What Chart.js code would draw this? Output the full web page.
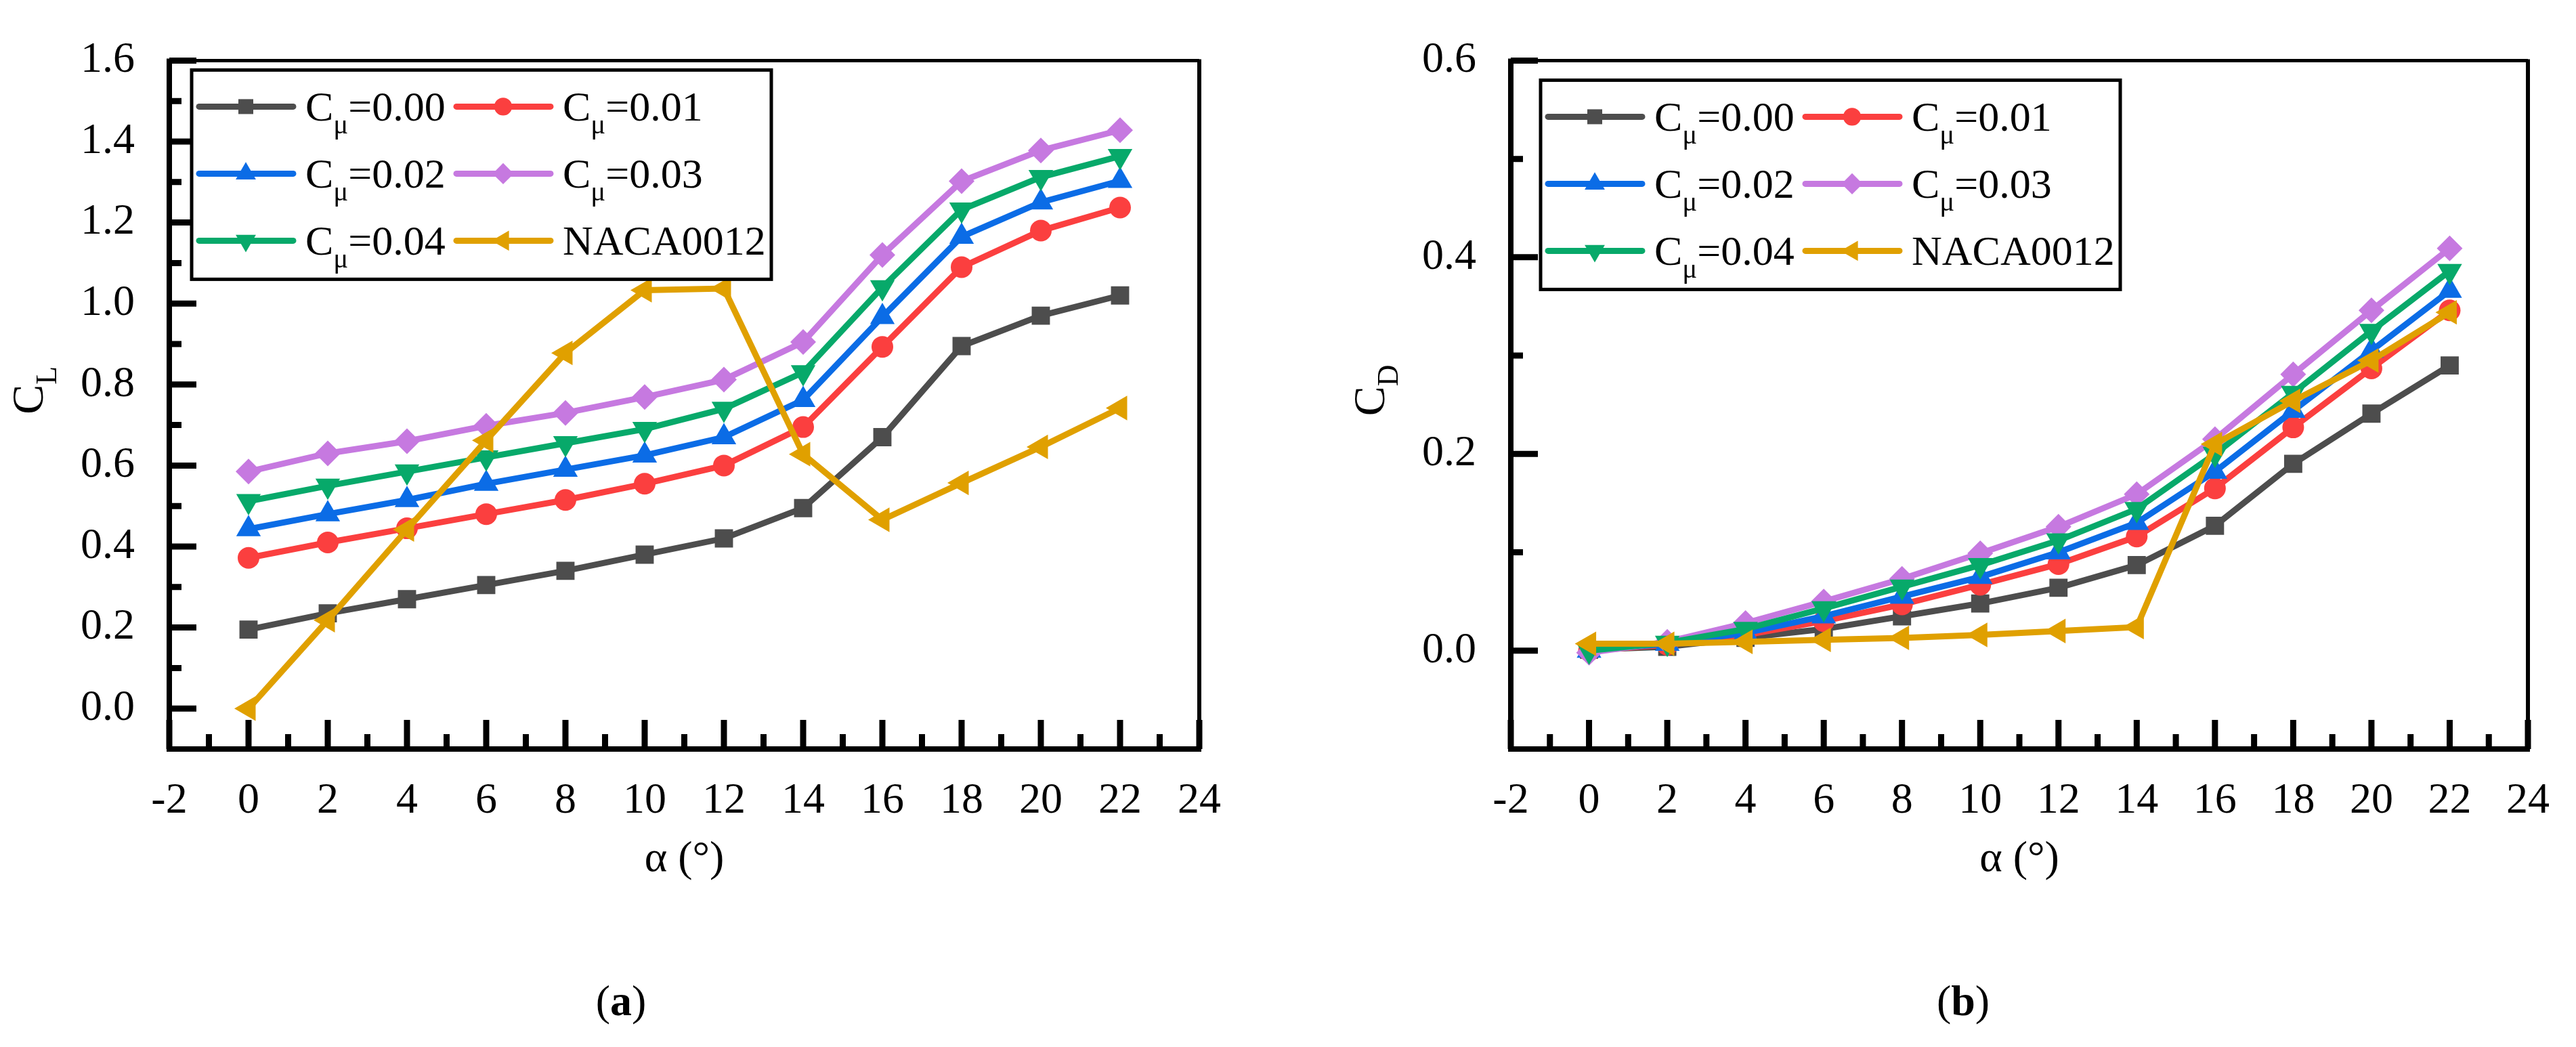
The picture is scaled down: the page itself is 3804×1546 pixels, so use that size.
<!DOCTYPE html>
<html>
<head>
<meta charset="utf-8">
<title>Lift and drag coefficients</title>
<script src="https://cdn.jsdelivr.net/npm/chart.js@4.4.1/dist/chart.umd.min.js"></script>
<style>
  html, body { margin: 0; padding: 0; background: #fff; }
  body { width: 3804px; height: 1546px; position: relative; overflow: hidden; }
  canvas { position: absolute; top: 0; }
  #chartCL { left: 0; }
  #chartCD { left: 1902px; }
  .caption {
    position: absolute; top: 1440px; width: 200px; margin-left: -100px;
    text-align: center; color: #000;
    font: 64px/76px 'Liberation Serif', 'Times New Roman', serif;
  }
</style>
</head>
<body>
<canvas id="chartCL" width="1900" height="1400"></canvas>
<canvas id="chartCD" width="1902" height="1400"></canvas>
<div class="caption" style="left:917px">(<b>a</b>)</div>
<div class="caption" style="left:2899px">(<b>b</b>)</div>

<script>
// ======================
// Data
// ======================
const alpha = [0, 2, 4, 6, 8, 10, 12, 14, 16, 18, 20, 22];
const seriesNames = ['C_μ=0.00', 'C_μ=0.01', 'C_μ=0.02', 'C_μ=0.03', 'C_μ=0.04', 'NACA0012'];

// lift coefficient (a)
const cl000 = [0.195, 0.235, 0.270, 0.305, 0.340, 0.380, 0.420, 0.495, 0.670, 0.895, 0.970, 1.020];
const cl001 = [0.372, 0.410, 0.445, 0.480, 0.515, 0.555, 0.600, 0.695, 0.893, 1.090, 1.180, 1.237];
const cl002 = [0.443, 0.480, 0.515, 0.555, 0.590, 0.625, 0.670, 0.762, 0.967, 1.165, 1.250, 1.303];
const cl003 = [0.585, 0.630, 0.660, 0.698, 0.730, 0.769, 0.812, 0.905, 1.120, 1.302, 1.378, 1.428];
const cl004 = [0.512, 0.550, 0.585, 0.620, 0.655, 0.690, 0.740, 0.830, 1.040, 1.232, 1.312, 1.364];
const clNaca = [0.000, 0.218, 0.442, 0.662, 0.878, 1.033, 1.037, 0.628, 0.466, 0.557, 0.646, 0.742];

// drag coefficient (b)
const cd000 = [0.001, 0.004, 0.013, 0.022, 0.035, 0.048, 0.064, 0.087, 0.127, 0.190, 0.241, 0.290];
const cd001 = [0.000, 0.006, 0.016, 0.030, 0.047, 0.067, 0.088, 0.116, 0.165, 0.227, 0.287, 0.346];
const cd002 = [0.000, 0.007, 0.018, 0.035, 0.055, 0.075, 0.100, 0.130, 0.182, 0.244, 0.305, 0.366];
const cd003 = [-0.002, 0.009, 0.028, 0.050, 0.073, 0.099, 0.126, 0.159, 0.215, 0.281, 0.346, 0.409];
const cd004 = [0.000, 0.008, 0.022, 0.043, 0.065, 0.087, 0.112, 0.144, 0.200, 0.262, 0.325, 0.386];
const cdNaca = [0.007, 0.007, 0.009, 0.011, 0.013, 0.016, 0.020, 0.024, 0.210, 0.254, 0.295, 0.344];

// tick labels
const xTicks = [-2, 0, 2, 4, 6, 8, 10, 12, 14, 16, 18, 20, 22, 24];
const clTicks = [0, 0.2, 0.4, 0.6, 0.8, 1.0, 1.2, 1.4, 1.6];
const cdTicks = [0, 0.2, 0.4, 0.6];

// ======================
// Styles
// ======================
const seriesColors = ['#4d4d4d', '#fb3f3f', '#0b6ce6', '#c679e0', '#07a96a', '#e0a000'];
const markerStyles = ['rect', 'circle', 'triangle', 'rectRot', 'triangle', 'triangle'];
const markerRotations = [0, 0, 0, 0, 180, -90];
const markerRadii = [19, 16, 21, 19, 21, 21];
const serif = "'Liberation Serif', 'Times New Roman', serif";

// text with one-character subscripts written as _x
function drawRich(ctx, text, x, y, size, align) {
    const subSize = Math.round(size * 0.66);
    const parts = [];
    for (let i = 0; i < text.length; i++) {
        if (text[i] === '_' && i + 1 < text.length) {
            parts.push({ t: text[i + 1], sub: true });
            i++;
        } else {
            const last = parts[parts.length - 1];
            if (last && !last.sub) last.t += text[i];
            else parts.push({ t: text[i], sub: false });
        }
    }
    let total = 0;
    parts.forEach(p => {
        ctx.font = (p.sub ? subSize : size) + 'px ' + serif;
        p.w = ctx.measureText(p.t).width;
        total += p.w;
    });
    let cx = align === 'center' ? x - total / 2 : x;
    ctx.textAlign = 'left';
    ctx.textBaseline = 'alphabetic';
    parts.forEach(p => {
        ctx.font = (p.sub ? subSize : size) + 'px ' + serif;
        ctx.fillText(p.t, cx, p.sub ? y + size * 0.3 : y);
        cx += p.w;
    });
}

function drawMarker(ctx, style, rotation, radius, x, y) {
    if (Chart.helpers && Chart.helpers.drawPoint) {
        Chart.helpers.drawPoint(ctx, { pointStyle: style, rotation: rotation, radius: radius, borderWidth: 0 }, x, y);
        return;
    }
    ctx.beginPath();
    ctx.arc(x, y, radius * 0.8, 0, Math.PI * 2);
    ctx.fill();
}

// ======================
// Frame, inward ticks, y title and legend
// ======================
const originFrame = {
    id: 'originFrame',
    afterDraw(chart, args, opts) {
        const { ctx, chartArea: a } = chart;
        const xs = chart.scales.x;
        const ys = chart.scales.y;
        ctx.save();
        ctx.strokeStyle = '#000';
        ctx.fillStyle = '#000';

        // ticks (inside)
        ctx.lineWidth = 9;
        ctx.beginPath();
        xTicks.forEach((v, i) => {
            const px = xs.getPixelForValue(v);
            ctx.moveTo(px, a.bottom);
            ctx.lineTo(px, a.bottom - 43);
            if (i < xTicks.length - 1) {
                const m = xs.getPixelForValue((v + xTicks[i + 1]) / 2);
                ctx.moveTo(m, a.bottom);
                ctx.lineTo(m, a.bottom - 22);
            }
        });
        opts.yTicks.forEach((v, i) => {
            const py = ys.getPixelForValue(v);
            ctx.moveTo(a.left, py);
            ctx.lineTo(a.left + 40, py);
            if (i < opts.yTicks.length - 1) {
                const m = ys.getPixelForValue((v + opts.yTicks[i + 1]) / 2);
                ctx.moveTo(a.left, m);
                ctx.lineTo(a.left + 18, m);
            }
        });
        ctx.stroke();

        // frame
        ctx.lineWidth = 5;
        ctx.beginPath();
        ctx.moveTo(a.left, a.top);
        ctx.lineTo(a.right, a.top);
        ctx.stroke();
        ctx.lineWidth = 6;
        ctx.beginPath();
        ctx.moveTo(a.right, a.top - 2);
        ctx.lineTo(a.right, a.bottom);
        ctx.stroke();
        ctx.lineWidth = 8;
        ctx.beginPath();
        ctx.moveTo(a.left, a.top - 3);
        ctx.lineTo(a.left, a.bottom);
        ctx.lineTo(a.right + 3, a.bottom);
        ctx.stroke();

        // y title with subscript
        ctx.save();
        ctx.translate(a.left - 187, a.top + 487);
        ctx.rotate(-Math.PI / 2);
        drawRich(ctx, opts.yTitle, 0, 0, 66, 'center');
        ctx.restore();

        // legend
        const lx = a.left + opts.legendX;
        const ly = a.top + opts.legendY;
        ctx.fillStyle = '#fff';
        ctx.fillRect(lx, ly, 856, 309);
        ctx.strokeStyle = '#000';
        ctx.lineWidth = 5;
        ctx.strokeRect(lx, ly, 856, 309);
        chart.data.datasets.forEach((ds, i) => {
            const col = i % 2;
            const row = Math.floor(i / 2);
            const x0 = lx + 7 + col * 380;
            const yc = ly + 54 + row * 99;
            ctx.strokeStyle = seriesColors[i];
            ctx.fillStyle = seriesColors[i];
            ctx.lineWidth = 9;
            ctx.lineCap = 'round';
            ctx.beginPath();
            ctx.moveTo(x0 + 4, yc);
            ctx.lineTo(x0 + 143, yc);
            ctx.stroke();
            drawMarker(ctx, markerStyles[i], markerRotations[i], markerRadii[i] * 0.82, x0 + 73, yc);
            ctx.fillStyle = '#000';
            drawRich(ctx, ds.label, x0 + 161, yc + 21, 62, 'left');
        });
        ctx.restore();
    }
};

function makeDatasets(valueLists) {
    return valueLists.map((vals, i) => ({
        label: seriesNames[i],
        data: alpha.map((a, j) => ({ x: a, y: vals[j] })),
        borderColor: seriesColors[i],
        backgroundColor: seriesColors[i],
        pointBackgroundColor: seriesColors[i],
        pointBorderColor: seriesColors[i],
        pointBorderWidth: 0,
        pointStyle: markerStyles[i],
        pointRotation: markerRotations[i],
        pointRadius: markerRadii[i],
        borderWidth: 9,
        tension: 0,
        fill: false,
        order: valueLists.length - i
    }));
}

function makeChart(canvasId, valueLists, yMax, yTicks, yTitle, yWidth, padRight, legendX, legendY) {
    const canvas = document.getElementById(canvasId);
    if (!canvas) return;
    new Chart(canvas, {
        type: 'line',
        data: { datasets: makeDatasets(valueLists) },
        plugins: [originFrame],
        options: {
            responsive: false,
            devicePixelRatio: 1,
            animation: false,
            events: [],
            layout: { padding: { left: 0, top: 53, right: padRight, bottom: 0 } },
            scales: {
                x: {
                    type: 'linear',
                    min: -2,
                    max: 24,
                    afterBuildTicks: s => { s.ticks = xTicks.map(v => ({ value: v })); },
                    afterFit: s => { s.height = 294; },
                    grid: { display: false, drawTicks: false },
                    border: { display: false },
                    ticks: {
                        color: '#000',
                        padding: 39,
                        maxRotation: 0,
                        autoSkip: false,
                        font: { family: serif, size: 64 },
                        callback: v => String(v)
                    },
                    title: {
                        display: true,
                        text: 'α (°)',
                        color: '#000',
                        font: { family: serif, size: 64 },
                        padding: { top: 0, bottom: 92 }
                    }
                },
                y: {
                    type: 'linear',
                    min: -0.1,
                    max: yMax,
                    afterBuildTicks: s => { s.ticks = yTicks.map(v => ({ value: v })); },
                    afterFit: s => { s.width = yWidth; },
                    grid: { display: false, drawTicks: false },
                    border: { display: false },
                    ticks: {
                        color: '#000',
                        padding: 51,
                        autoSkip: false,
                        font: { family: serif, size: 64 },
                        callback: v => Number(v).toFixed(1)
                    }
                }
            },
            plugins: {
                legend: { display: false },
                tooltip: { enabled: false },
                originFrame: { yTicks: yTicks, yTitle: yTitle, legendX: legendX, legendY: legendY }
            }
        }
    });
}

makeChart('chartCL', [cl000, cl001, cl002, cl003, cl004, clNaca], 1.6, clTicks, 'C_L', 250, 129, 33, 14);
makeChart('chartCD', [cd000, cd001, cd002, cd003, cd004, cdNaca], 0.6, cdTicks, 'C_D', 329, 48, 44, 29);
</script>
</body>
</html>
